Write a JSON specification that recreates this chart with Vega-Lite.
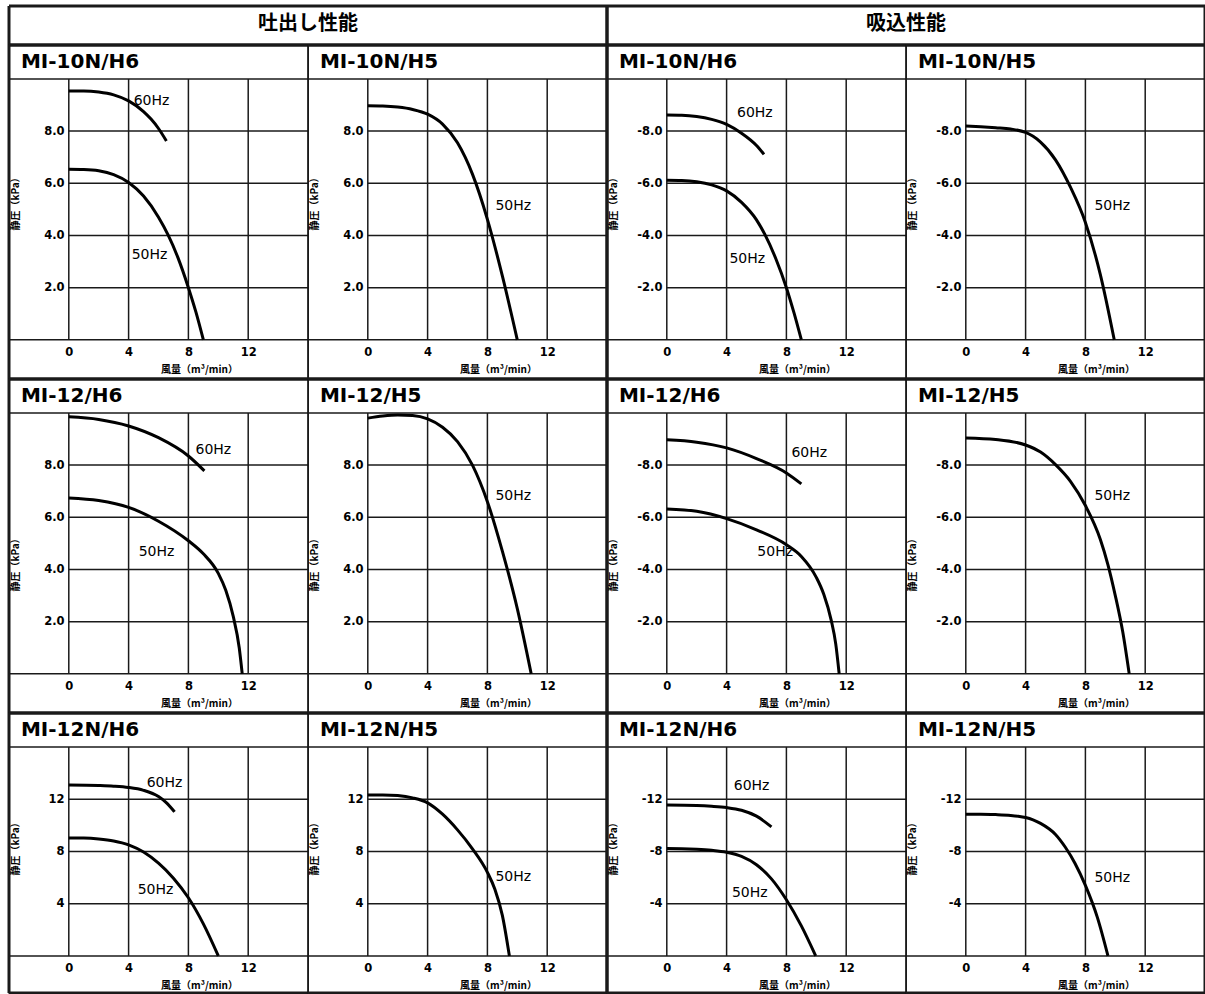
{
"$schema": "https://vega.github.io/schema/vega-lite/v6.json",
"padding": {"left": 6, "top": 4, "right": 0, "bottom": 0},
"background": "white",
"config": {
 "view": {"stroke": "#111", "strokeWidth": 1.4},
 "concat": {"spacing": 0},
 "mark": {"color": "#000"},
 "rule": {"color": "#1a1a1a", "strokeWidth": 1.5},
 "line": {"color": "#000", "strokeWidth": 3, "interpolate": "monotone"},
 "text": {"font": "DejaVu Sans", "fontSize": 14, "color": "#000"},
 "axis": {"domain": false, "ticks": false, "grid": false, "labelFont": "DejaVu Sans", "labelFontWeight": "bold", "labelFontSize": 11.5, "labelColor": "#000", "titleFont": "Noto Sans CJK JP", "titleFontWeight": "bold", "titleFontSize": 10, "titleColor": "#000"}
},
"datasets": {
 "vg": [{"v": 0}, {"v": 4}, {"v": 8}, {"v": 12}],
 "hgA": [{"v": 2}, {"v": 4}, {"v": 6}, {"v": 8}],
 "hgB": [{"v": 4}, {"v": 8}, {"v": 12}],
 "hgSA": [{"v": -2}, {"v": -4}, {"v": -6}, {"v": -8}],
 "hgSB": [{"v": -4}, {"v": -8}, {"v": -12}],
 "one": [{"k": 1}],
 "curves": [
  {"panel":"D1","hz":"60Hz","q":0,"p":9.54},{"panel":"D1","hz":"60Hz","q":1,"p":9.54},{"panel":"D1","hz":"60Hz","q":2,"p":9.5},{"panel":"D1","hz":"60Hz","q":3,"p":9.39},{"panel":"D1","hz":"60Hz","q":4,"p":9.16},{"panel":"D1","hz":"60Hz","q":5,"p":8.75},{"panel":"D1","hz":"60Hz","q":5.5,"p":8.46},{"panel":"D1","hz":"60Hz","q":6,"p":8.1},{"panel":"D1","hz":"60Hz","q":6.53,"p":7.62},
  {"panel":"D1","hz":"50Hz","q":0,"p":6.54},{"panel":"D1","hz":"50Hz","q":1,"p":6.53},{"panel":"D1","hz":"50Hz","q":2,"p":6.48},{"panel":"D1","hz":"50Hz","q":3,"p":6.33},{"panel":"D1","hz":"50Hz","q":4,"p":6.03},{"panel":"D1","hz":"50Hz","q":5,"p":5.51},{"panel":"D1","hz":"50Hz","q":6,"p":4.7},{"panel":"D1","hz":"50Hz","q":6.64,"p":4.02},{"panel":"D1","hz":"50Hz","q":7.3,"p":3.15},{"panel":"D1","hz":"50Hz","q":8,"p":2.0},{"panel":"D1","hz":"50Hz","q":8.5,"p":1.07},{"panel":"D1","hz":"50Hz","q":9,"p":0},
  {"panel":"D2","hz":"50Hz","q":0,"p":8.97},{"panel":"D2","hz":"50Hz","q":1,"p":8.96},{"panel":"D2","hz":"50Hz","q":2,"p":8.92},{"panel":"D2","hz":"50Hz","q":3,"p":8.83},{"panel":"D2","hz":"50Hz","q":4,"p":8.65},{"panel":"D2","hz":"50Hz","q":5,"p":8.27},{"panel":"D2","hz":"50Hz","q":6,"p":7.55},{"panel":"D2","hz":"50Hz","q":7,"p":6.35},{"panel":"D2","hz":"50Hz","q":8,"p":4.62},{"panel":"D2","hz":"50Hz","q":9,"p":2.45},{"panel":"D2","hz":"50Hz","q":10,"p":0},
  {"panel":"D3","hz":"60Hz","q":0,"p":9.85},{"panel":"D3","hz":"60Hz","q":2,"p":9.75},{"panel":"D3","hz":"60Hz","q":4,"p":9.5},{"panel":"D3","hz":"60Hz","q":6,"p":9.05},{"panel":"D3","hz":"60Hz","q":8,"p":8.35},{"panel":"D3","hz":"60Hz","q":9.07,"p":7.78},
  {"panel":"D3","hz":"50Hz","q":0,"p":6.74},{"panel":"D3","hz":"50Hz","q":2,"p":6.64},{"panel":"D3","hz":"50Hz","q":4,"p":6.38},{"panel":"D3","hz":"50Hz","q":6,"p":5.85},{"panel":"D3","hz":"50Hz","q":8,"p":5.1},{"panel":"D3","hz":"50Hz","q":9,"p":4.6},{"panel":"D3","hz":"50Hz","q":10,"p":3.85},{"panel":"D3","hz":"50Hz","q":10.5,"p":3.2},{"panel":"D3","hz":"50Hz","q":11,"p":2.2},{"panel":"D3","hz":"50Hz","q":11.4,"p":1.0},{"panel":"D3","hz":"50Hz","q":11.6,"p":0},
  {"panel":"D4","hz":"50Hz","q":0,"p":9.8},{"panel":"D4","hz":"50Hz","q":1,"p":9.88},{"panel":"D4","hz":"50Hz","q":2,"p":9.92},{"panel":"D4","hz":"50Hz","q":3,"p":9.9},{"panel":"D4","hz":"50Hz","q":4,"p":9.77},{"panel":"D4","hz":"50Hz","q":5,"p":9.45},{"panel":"D4","hz":"50Hz","q":6,"p":8.9},{"panel":"D4","hz":"50Hz","q":7,"p":8.0},{"panel":"D4","hz":"50Hz","q":8,"p":6.6},{"panel":"D4","hz":"50Hz","q":9,"p":4.7},{"panel":"D4","hz":"50Hz","q":10,"p":2.5},{"panel":"D4","hz":"50Hz","q":10.93,"p":0},
  {"panel":"D5","hz":"60Hz","q":0,"p":13.09},{"panel":"D5","hz":"60Hz","q":2,"p":13.05},{"panel":"D5","hz":"60Hz","q":3,"p":13.0},{"panel":"D5","hz":"60Hz","q":4,"p":12.9},{"panel":"D5","hz":"60Hz","q":5,"p":12.68},{"panel":"D5","hz":"60Hz","q":6,"p":12.2},{"panel":"D5","hz":"60Hz","q":6.5,"p":11.75},{"panel":"D5","hz":"60Hz","q":7.07,"p":11.03},
  {"panel":"D5","hz":"50Hz","q":0,"p":9.03},{"panel":"D5","hz":"50Hz","q":1,"p":9.02},{"panel":"D5","hz":"50Hz","q":2,"p":8.95},{"panel":"D5","hz":"50Hz","q":3,"p":8.8},{"panel":"D5","hz":"50Hz","q":4,"p":8.5},{"panel":"D5","hz":"50Hz","q":5,"p":7.95},{"panel":"D5","hz":"50Hz","q":6,"p":7.1},{"panel":"D5","hz":"50Hz","q":7,"p":5.95},{"panel":"D5","hz":"50Hz","q":8,"p":4.45},{"panel":"D5","hz":"50Hz","q":9,"p":2.45},{"panel":"D5","hz":"50Hz","q":10,"p":0},
  {"panel":"D6","hz":"50Hz","q":0,"p":12.33},{"panel":"D6","hz":"50Hz","q":1,"p":12.33},{"panel":"D6","hz":"50Hz","q":2,"p":12.28},{"panel":"D6","hz":"50Hz","q":3,"p":12.1},{"panel":"D6","hz":"50Hz","q":4,"p":11.72},{"panel":"D6","hz":"50Hz","q":5,"p":10.85},{"panel":"D6","hz":"50Hz","q":6,"p":9.65},{"panel":"D6","hz":"50Hz","q":7,"p":8.2},{"panel":"D6","hz":"50Hz","q":8,"p":6.4},{"panel":"D6","hz":"50Hz","q":8.5,"p":5.1},{"panel":"D6","hz":"50Hz","q":9,"p":3.1},{"panel":"D6","hz":"50Hz","q":9.47,"p":0},
  {"panel":"S1","hz":"60Hz","q":0,"p":-8.62},{"panel":"S1","hz":"60Hz","q":1,"p":-8.61},{"panel":"S1","hz":"60Hz","q":2,"p":-8.56},{"panel":"S1","hz":"60Hz","q":3,"p":-8.45},{"panel":"S1","hz":"60Hz","q":4,"p":-8.26},{"panel":"S1","hz":"60Hz","q":5,"p":-7.92},{"panel":"S1","hz":"60Hz","q":6,"p":-7.45},{"panel":"S1","hz":"60Hz","q":6.5,"p":-7.11},
  {"panel":"S1","hz":"50Hz","q":0,"p":-6.12},{"panel":"S1","hz":"50Hz","q":1,"p":-6.11},{"panel":"S1","hz":"50Hz","q":2,"p":-6.06},{"panel":"S1","hz":"50Hz","q":3,"p":-5.94},{"panel":"S1","hz":"50Hz","q":4,"p":-5.71},{"panel":"S1","hz":"50Hz","q":5,"p":-5.27},{"panel":"S1","hz":"50Hz","q":6,"p":-4.6},{"panel":"S1","hz":"50Hz","q":6.55,"p":-4.05},{"panel":"S1","hz":"50Hz","q":7.3,"p":-3.1},{"panel":"S1","hz":"50Hz","q":8,"p":-2.0},{"panel":"S1","hz":"50Hz","q":8.5,"p":-1.05},{"panel":"S1","hz":"50Hz","q":9,"p":0},
  {"panel":"S2","hz":"50Hz","q":0,"p":-8.2},{"panel":"S2","hz":"50Hz","q":1,"p":-8.17},{"panel":"S2","hz":"50Hz","q":2,"p":-8.13},{"panel":"S2","hz":"50Hz","q":3,"p":-8.08},{"panel":"S2","hz":"50Hz","q":4,"p":-7.95},{"panel":"S2","hz":"50Hz","q":4.5,"p":-7.8},{"panel":"S2","hz":"50Hz","q":5,"p":-7.58},{"panel":"S2","hz":"50Hz","q":6,"p":-6.9},{"panel":"S2","hz":"50Hz","q":7,"p":-5.85},{"panel":"S2","hz":"50Hz","q":8,"p":-4.5},{"panel":"S2","hz":"50Hz","q":9,"p":-2.5},{"panel":"S2","hz":"50Hz","q":9.93,"p":0},
  {"panel":"S3","hz":"60Hz","q":0,"p":-8.97},{"panel":"S3","hz":"60Hz","q":2,"p":-8.88},{"panel":"S3","hz":"60Hz","q":4,"p":-8.66},{"panel":"S3","hz":"60Hz","q":6,"p":-8.25},{"panel":"S3","hz":"60Hz","q":8,"p":-7.7},{"panel":"S3","hz":"60Hz","q":9,"p":-7.28},
  {"panel":"S3","hz":"50Hz","q":0,"p":-6.32},{"panel":"S3","hz":"50Hz","q":2,"p":-6.23},{"panel":"S3","hz":"50Hz","q":4,"p":-5.95},{"panel":"S3","hz":"50Hz","q":6,"p":-5.52},{"panel":"S3","hz":"50Hz","q":8,"p":-4.95},{"panel":"S3","hz":"50Hz","q":9,"p":-4.5},{"panel":"S3","hz":"50Hz","q":10,"p":-3.7},{"panel":"S3","hz":"50Hz","q":10.5,"p":-3.05},{"panel":"S3","hz":"50Hz","q":11,"p":-2.05},{"panel":"S3","hz":"50Hz","q":11.3,"p":-1.15},{"panel":"S3","hz":"50Hz","q":11.53,"p":0},
  {"panel":"S4","hz":"50Hz","q":0,"p":-9.04},{"panel":"S4","hz":"50Hz","q":2,"p":-8.98},{"panel":"S4","hz":"50Hz","q":4,"p":-8.77},{"panel":"S4","hz":"50Hz","q":5,"p":-8.5},{"panel":"S4","hz":"50Hz","q":6,"p":-8.02},{"panel":"S4","hz":"50Hz","q":7,"p":-7.38},{"panel":"S4","hz":"50Hz","q":8,"p":-6.45},{"panel":"S4","hz":"50Hz","q":9,"p":-5.15},{"panel":"S4","hz":"50Hz","q":9.5,"p":-4.2},{"panel":"S4","hz":"50Hz","q":10,"p":-3.0},{"panel":"S4","hz":"50Hz","q":10.5,"p":-1.6},{"panel":"S4","hz":"50Hz","q":10.93,"p":0},
  {"panel":"S5","hz":"60Hz","q":0,"p":-11.56},{"panel":"S5","hz":"60Hz","q":2,"p":-11.52},{"panel":"S5","hz":"60Hz","q":3,"p":-11.46},{"panel":"S5","hz":"60Hz","q":4,"p":-11.36},{"panel":"S5","hz":"60Hz","q":5,"p":-11.15},{"panel":"S5","hz":"60Hz","q":6,"p":-10.7},{"panel":"S5","hz":"60Hz","q":7,"p":-9.88},
  {"panel":"S5","hz":"50Hz","q":0,"p":-8.22},{"panel":"S5","hz":"50Hz","q":1,"p":-8.21},{"panel":"S5","hz":"50Hz","q":2,"p":-8.17},{"panel":"S5","hz":"50Hz","q":3,"p":-8.09},{"panel":"S5","hz":"50Hz","q":4,"p":-7.94},{"panel":"S5","hz":"50Hz","q":5,"p":-7.62},{"panel":"S5","hz":"50Hz","q":6,"p":-6.98},{"panel":"S5","hz":"50Hz","q":7,"p":-5.9},{"panel":"S5","hz":"50Hz","q":8,"p":-4.3},{"panel":"S5","hz":"50Hz","q":9,"p":-2.3},{"panel":"S5","hz":"50Hz","q":9.96,"p":0},
  {"panel":"S6","hz":"50Hz","q":0,"p":-10.85},{"panel":"S6","hz":"50Hz","q":1,"p":-10.85},{"panel":"S6","hz":"50Hz","q":2,"p":-10.82},{"panel":"S6","hz":"50Hz","q":3,"p":-10.76},{"panel":"S6","hz":"50Hz","q":3.5,"p":-10.7},{"panel":"S6","hz":"50Hz","q":4,"p":-10.6},{"panel":"S6","hz":"50Hz","q":4.5,"p":-10.42},{"panel":"S6","hz":"50Hz","q":5,"p":-10.15},{"panel":"S6","hz":"50Hz","q":6,"p":-9.3},{"panel":"S6","hz":"50Hz","q":6.67,"p":-8.3},{"panel":"S6","hz":"50Hz","q":7.3,"p":-7.1},{"panel":"S6","hz":"50Hz","q":8,"p":-5.4},{"panel":"S6","hz":"50Hz","q":8.8,"p":-2.95},{"panel":"S6","hz":"50Hz","q":9.51,"p":0}
 ],
 "hz": [
  {"panel":"D1","hz":"60Hz","q":5.53,"p":9.16},{"panel":"D1","hz":"50Hz","q":5.4,"p":3.26},
  {"panel":"D2","hz":"50Hz","q":9.73,"p":5.13},
  {"panel":"D3","hz":"60Hz","q":9.67,"p":8.58},{"panel":"D3","hz":"50Hz","q":5.87,"p":4.67},
  {"panel":"D4","hz":"50Hz","q":9.73,"p":6.82},
  {"panel":"D5","hz":"60Hz","q":6.4,"p":13.25},{"panel":"D5","hz":"50Hz","q":5.8,"p":5.05},
  {"panel":"D6","hz":"50Hz","q":9.73,"p":6.05},
  {"panel":"S1","hz":"60Hz","q":5.89,"p":-8.71},{"panel":"S1","hz":"50Hz","q":5.38,"p":-3.09},
  {"panel":"S2","hz":"50Hz","q":9.8,"p":-5.13},
  {"panel":"S3","hz":"60Hz","q":9.53,"p":-8.47},{"panel":"S3","hz":"50Hz","q":7.25,"p":-4.67},
  {"panel":"S4","hz":"50Hz","q":9.8,"p":-6.82},
  {"panel":"S5","hz":"60Hz","q":5.67,"p":-13.0},{"panel":"S5","hz":"50Hz","q":5.55,"p":-4.85},
  {"panel":"S6","hz":"50Hz","q":9.8,"p":-6.0}
 ]
},
"columns": 4,
"spacing": 0,
"bounds": "flush",
"concat": [
 {"width": 299, "height": 39, "view": {"stroke": null}, "data": {"values": [{"t": "吐出し性能"}]}, "layer": [
  {"mark": {"type": "rule", "strokeWidth": 3}, "encoding": {"x": {"datum": 0, "type": "quantitative", "scale": {"domain": [0, 1], "nice": false}, "axis": null}, "x2": {"datum": 1}, "y": {"datum": 1, "type": "quantitative", "scale": {"domain": [0, 1], "nice": false}, "axis": null}}},
  {"mark": {"type": "rule", "strokeWidth": 3}, "encoding": {"x": {"datum": 0, "axis": null}, "x2": {"datum": 1}, "y": {"datum": 0, "axis": null}}},
  {"mark": {"type": "rule", "strokeWidth": 3}, "encoding": {"x": {"datum": 0, "axis": null}, "y": {"datum": 0, "axis": null}, "y2": {"datum": 1}}},
  {"mark": {"type": "text", "font": "Noto Sans CJK JP", "fontWeight": "bold", "fontSize": 20}, "encoding": {"x": {"datum": 1, "axis": null}, "y": {"datum": 0.55, "axis": null}, "text": {"field": "t"}}}
 ]},
 {"width": 299, "height": 39, "view": {"stroke": null}, "data": {"name": "one"}, "layer": [
  {"mark": {"type": "rule", "strokeWidth": 3}, "encoding": {"x": {"datum": 0, "type": "quantitative", "scale": {"domain": [0, 1], "nice": false}, "axis": null}, "x2": {"datum": 1}, "y": {"datum": 1, "type": "quantitative", "scale": {"domain": [0, 1], "nice": false}, "axis": null}}},
  {"mark": {"type": "rule", "strokeWidth": 3}, "encoding": {"x": {"datum": 0, "axis": null}, "x2": {"datum": 1}, "y": {"datum": 0, "axis": null}}},
  {"mark": {"type": "rule", "strokeWidth": 3}, "encoding": {"x": {"datum": 1, "axis": null}, "y": {"datum": 0, "axis": null}, "y2": {"datum": 1}}}
 ]},
 {"width": 299, "height": 39, "view": {"stroke": null}, "data": {"values": [{"t": "吸込性能"}]}, "layer": [
  {"mark": {"type": "rule", "strokeWidth": 3}, "encoding": {"x": {"datum": 0, "type": "quantitative", "scale": {"domain": [0, 1], "nice": false}, "axis": null}, "x2": {"datum": 1}, "y": {"datum": 1, "type": "quantitative", "scale": {"domain": [0, 1], "nice": false}, "axis": null}}},
  {"mark": {"type": "rule", "strokeWidth": 3}, "encoding": {"x": {"datum": 0, "axis": null}, "x2": {"datum": 1}, "y": {"datum": 0, "axis": null}}},
  {"mark": {"type": "rule", "strokeWidth": 3}, "encoding": {"x": {"datum": 0, "axis": null}, "y": {"datum": 0, "axis": null}, "y2": {"datum": 1}}},
  {"mark": {"type": "text", "font": "Noto Sans CJK JP", "fontWeight": "bold", "fontSize": 20}, "encoding": {"x": {"datum": 1, "axis": null}, "y": {"datum": 0.55, "axis": null}, "text": {"field": "t"}}}
 ]},
 {"width": 299, "height": 39, "view": {"stroke": null}, "data": {"name": "one"}, "layer": [
  {"mark": {"type": "rule", "strokeWidth": 3}, "encoding": {"x": {"datum": 0, "type": "quantitative", "scale": {"domain": [0, 1], "nice": false}, "axis": null}, "x2": {"datum": 1}, "y": {"datum": 1, "type": "quantitative", "scale": {"domain": [0, 1], "nice": false}, "axis": null}}},
  {"mark": {"type": "rule", "strokeWidth": 3}, "encoding": {"x": {"datum": 0, "axis": null}, "x2": {"datum": 1}, "y": {"datum": 0, "axis": null}}},
  {"mark": {"type": "rule", "strokeWidth": 3}, "encoding": {"x": {"datum": 1, "axis": null}, "y": {"datum": 0, "axis": null}, "y2": {"datum": 1}}}
 ]},
 {"width": 299, "height": 334, "layer": [
  {"data": {"name": "vg"}, "mark": "rule", "encoding": {
    "x": {"field": "v", "type": "quantitative", "scale": {"domain": [-4, 16], "nice": false}, "axis": {"values": [0, 4, 8, 12], "offset": -39, "labelPadding": 6, "title": "風量（m³/min）", "titleX": 190, "titleY": 29, "titleBaseline": "middle"}},
    "y": {"datum": 0, "type": "quantitative", "scale": {"domain": [-1.5, 11.3], "nice": false}, "axis": {"values": [2, 4, 6, 8], "format": ".1f", "offset": -60, "labelPadding": 5, "title": "静圧（kPa）", "titleX": -49, "titleY": 156}},
    "y2": {"datum": 10}}},
  {"data": {"name": "hgA"}, "mark": "rule", "encoding": {"y": {"field": "v", "type": "quantitative"}, "x": {"datum": 0}, "x2": {"datum": 16}}},
  {"data": {"name": "one"}, "mark": "rule", "encoding": {"y": {"datum": 0}, "x": {"datum": -4}, "x2": {"datum": 16}}},
  {"data": {"name": "one"}, "mark": "rule", "encoding": {"y": {"datum": 10}, "x": {"datum": -4}, "x2": {"datum": 16}}},
  {"data": {"name": "one"}, "mark": {"type": "rule", "strokeWidth": 3}, "encoding": {"y": {"datum": 11.3}, "x": {"datum": -4}, "x2": {"datum": 16}}},
  {"data": {"name": "one"}, "mark": {"type": "rule", "strokeWidth": 3}, "encoding": {"y": {"datum": -1.5}, "x": {"datum": -4}, "x2": {"datum": 16}}},
  {"data": {"name": "one"}, "mark": {"type": "rule", "strokeWidth": 3}, "encoding": {"x": {"datum": -4}, "y": {"datum": -1.5}, "y2": {"datum": 11.3}}},
  {"data": {"name": "curves"}, "transform": [{"filter": "datum.panel == 'D1'"}], "mark": "line", "encoding": {"x": {"field": "q", "type": "quantitative"}, "y": {"field": "p", "type": "quantitative"}, "detail": {"field": "hz"}}},
  {"data": {"name": "hz"}, "transform": [{"filter": "datum.panel == 'D1'"}], "mark": "text", "encoding": {"x": {"field": "q", "type": "quantitative"}, "y": {"field": "p", "type": "quantitative"}, "text": {"field": "hz"}}},
  {"data": {"values": [{"t": "MI-10N/H6"}]}, "mark": {"type": "text", "align": "left", "fontSize": 20, "fontWeight": "bold"}, "encoding": {"x": {"datum": -3.2}, "y": {"datum": 10.65}, "text": {"field": "t"}}}
 ]},
 {"width": 299, "height": 334, "layer": [
  {"data": {"name": "vg"}, "mark": "rule", "encoding": {
    "x": {"field": "v", "type": "quantitative", "scale": {"domain": [-4, 16], "nice": false}, "axis": {"values": [0, 4, 8, 12], "offset": -39, "labelPadding": 6, "title": "風量（m³/min）", "titleX": 190, "titleY": 29, "titleBaseline": "middle"}},
    "y": {"datum": 0, "type": "quantitative", "scale": {"domain": [-1.5, 11.3], "nice": false}, "axis": {"values": [2, 4, 6, 8], "format": ".1f", "offset": -60, "labelPadding": 5, "title": "静圧（kPa）", "titleX": -49, "titleY": 156}},
    "y2": {"datum": 10}}},
  {"data": {"name": "hgA"}, "mark": "rule", "encoding": {"y": {"field": "v", "type": "quantitative"}, "x": {"datum": 0}, "x2": {"datum": 16}}},
  {"data": {"name": "one"}, "mark": "rule", "encoding": {"y": {"datum": 0}, "x": {"datum": -4}, "x2": {"datum": 16}}},
  {"data": {"name": "one"}, "mark": "rule", "encoding": {"y": {"datum": 10}, "x": {"datum": -4}, "x2": {"datum": 16}}},
  {"data": {"name": "one"}, "mark": {"type": "rule", "strokeWidth": 3}, "encoding": {"y": {"datum": 11.3}, "x": {"datum": -4}, "x2": {"datum": 16}}},
  {"data": {"name": "one"}, "mark": {"type": "rule", "strokeWidth": 3}, "encoding": {"y": {"datum": -1.5}, "x": {"datum": -4}, "x2": {"datum": 16}}},
  {"data": {"name": "one"}, "mark": {"type": "rule", "strokeWidth": 3}, "encoding": {"x": {"datum": 16}, "y": {"datum": -1.5}, "y2": {"datum": 11.3}}},
  {"data": {"name": "curves"}, "transform": [{"filter": "datum.panel == 'D2'"}], "mark": "line", "encoding": {"x": {"field": "q", "type": "quantitative"}, "y": {"field": "p", "type": "quantitative"}, "detail": {"field": "hz"}}},
  {"data": {"name": "hz"}, "transform": [{"filter": "datum.panel == 'D2'"}], "mark": "text", "encoding": {"x": {"field": "q", "type": "quantitative"}, "y": {"field": "p", "type": "quantitative"}, "text": {"field": "hz"}}},
  {"data": {"values": [{"t": "MI-10N/H5"}]}, "mark": {"type": "text", "align": "left", "fontSize": 20, "fontWeight": "bold"}, "encoding": {"x": {"datum": -3.2}, "y": {"datum": 10.65}, "text": {"field": "t"}}}
 ]},
 {"width": 299, "height": 334, "layer": [
  {"data": {"name": "vg"}, "mark": "rule", "encoding": {
    "x": {"field": "v", "type": "quantitative", "scale": {"domain": [-4, 16], "nice": false}, "axis": {"values": [0, 4, 8, 12], "offset": -39, "labelPadding": 6, "title": "風量（m³/min）", "titleX": 190, "titleY": 29, "titleBaseline": "middle"}},
    "y": {"datum": 0, "type": "quantitative", "scale": {"domain": [-11.3, 1.5], "nice": false, "reverse": true}, "axis": {"values": [-2, -4, -6, -8], "labelExpr": "'-' + format(abs(datum.value), '.1f')", "offset": -60, "labelPadding": 5, "title": "静圧（kPa）", "titleX": -49, "titleY": 156}},
    "y2": {"datum": -10}}},
  {"data": {"name": "hgSA"}, "mark": "rule", "encoding": {"y": {"field": "v", "type": "quantitative"}, "x": {"datum": 0}, "x2": {"datum": 16}}},
  {"data": {"name": "one"}, "mark": "rule", "encoding": {"y": {"datum": 0}, "x": {"datum": -4}, "x2": {"datum": 16}}},
  {"data": {"name": "one"}, "mark": "rule", "encoding": {"y": {"datum": -10}, "x": {"datum": -4}, "x2": {"datum": 16}}},
  {"data": {"name": "one"}, "mark": {"type": "rule", "strokeWidth": 3}, "encoding": {"y": {"datum": -11.3}, "x": {"datum": -4}, "x2": {"datum": 16}}},
  {"data": {"name": "one"}, "mark": {"type": "rule", "strokeWidth": 3}, "encoding": {"y": {"datum": 1.5}, "x": {"datum": -4}, "x2": {"datum": 16}}},
  {"data": {"name": "one"}, "mark": {"type": "rule", "strokeWidth": 3}, "encoding": {"x": {"datum": -4}, "y": {"datum": 1.5}, "y2": {"datum": -11.3}}},
  {"data": {"name": "curves"}, "transform": [{"filter": "datum.panel == 'S1'"}], "mark": "line", "encoding": {"x": {"field": "q", "type": "quantitative"}, "y": {"field": "p", "type": "quantitative"}, "detail": {"field": "hz"}}},
  {"data": {"name": "hz"}, "transform": [{"filter": "datum.panel == 'S1'"}], "mark": "text", "encoding": {"x": {"field": "q", "type": "quantitative"}, "y": {"field": "p", "type": "quantitative"}, "text": {"field": "hz"}}},
  {"data": {"values": [{"t": "MI-10N/H6"}]}, "mark": {"type": "text", "align": "left", "fontSize": 20, "fontWeight": "bold"}, "encoding": {"x": {"datum": -3.2}, "y": {"datum": -10.65}, "text": {"field": "t"}}}
 ]},
 {"width": 299, "height": 334, "layer": [
  {"data": {"name": "vg"}, "mark": "rule", "encoding": {
    "x": {"field": "v", "type": "quantitative", "scale": {"domain": [-4, 16], "nice": false}, "axis": {"values": [0, 4, 8, 12], "offset": -39, "labelPadding": 6, "title": "風量（m³/min）", "titleX": 190, "titleY": 29, "titleBaseline": "middle"}},
    "y": {"datum": 0, "type": "quantitative", "scale": {"domain": [-11.3, 1.5], "nice": false, "reverse": true}, "axis": {"values": [-2, -4, -6, -8], "labelExpr": "'-' + format(abs(datum.value), '.1f')", "offset": -60, "labelPadding": 5, "title": "静圧（kPa）", "titleX": -49, "titleY": 156}},
    "y2": {"datum": -10}}},
  {"data": {"name": "hgSA"}, "mark": "rule", "encoding": {"y": {"field": "v", "type": "quantitative"}, "x": {"datum": 0}, "x2": {"datum": 16}}},
  {"data": {"name": "one"}, "mark": "rule", "encoding": {"y": {"datum": 0}, "x": {"datum": -4}, "x2": {"datum": 16}}},
  {"data": {"name": "one"}, "mark": "rule", "encoding": {"y": {"datum": -10}, "x": {"datum": -4}, "x2": {"datum": 16}}},
  {"data": {"name": "one"}, "mark": {"type": "rule", "strokeWidth": 3}, "encoding": {"y": {"datum": -11.3}, "x": {"datum": -4}, "x2": {"datum": 16}}},
  {"data": {"name": "one"}, "mark": {"type": "rule", "strokeWidth": 3}, "encoding": {"y": {"datum": 1.5}, "x": {"datum": -4}, "x2": {"datum": 16}}},
  {"data": {"name": "one"}, "mark": {"type": "rule", "strokeWidth": 3}, "encoding": {"x": {"datum": 16}, "y": {"datum": 1.5}, "y2": {"datum": -11.3}}},
  {"data": {"name": "curves"}, "transform": [{"filter": "datum.panel == 'S2'"}], "mark": "line", "encoding": {"x": {"field": "q", "type": "quantitative"}, "y": {"field": "p", "type": "quantitative"}, "detail": {"field": "hz"}}},
  {"data": {"name": "hz"}, "transform": [{"filter": "datum.panel == 'S2'"}], "mark": "text", "encoding": {"x": {"field": "q", "type": "quantitative"}, "y": {"field": "p", "type": "quantitative"}, "text": {"field": "hz"}}},
  {"data": {"values": [{"t": "MI-10N/H5"}]}, "mark": {"type": "text", "align": "left", "fontSize": 20, "fontWeight": "bold"}, "encoding": {"x": {"datum": -3.2}, "y": {"datum": -10.65}, "text": {"field": "t"}}}
 ]},
 {"width": 299, "height": 334, "layer": [
  {"data": {"name": "vg"}, "mark": "rule", "encoding": {
    "x": {"field": "v", "type": "quantitative", "scale": {"domain": [-4, 16], "nice": false}, "axis": {"values": [0, 4, 8, 12], "offset": -39, "labelPadding": 6, "title": "風量（m³/min）", "titleX": 190, "titleY": 29, "titleBaseline": "middle"}},
    "y": {"datum": 0, "type": "quantitative", "scale": {"domain": [-1.5, 11.3], "nice": false}, "axis": {"values": [2, 4, 6, 8], "format": ".1f", "offset": -60, "labelPadding": 5, "title": "静圧（kPa）", "titleX": -49, "titleY": 183}},
    "y2": {"datum": 10}}},
  {"data": {"name": "hgA"}, "mark": "rule", "encoding": {"y": {"field": "v", "type": "quantitative"}, "x": {"datum": 0}, "x2": {"datum": 16}}},
  {"data": {"name": "one"}, "mark": "rule", "encoding": {"y": {"datum": 0}, "x": {"datum": -4}, "x2": {"datum": 16}}},
  {"data": {"name": "one"}, "mark": "rule", "encoding": {"y": {"datum": 10}, "x": {"datum": -4}, "x2": {"datum": 16}}},
  {"data": {"name": "one"}, "mark": {"type": "rule", "strokeWidth": 3}, "encoding": {"y": {"datum": 11.3}, "x": {"datum": -4}, "x2": {"datum": 16}}},
  {"data": {"name": "one"}, "mark": {"type": "rule", "strokeWidth": 3}, "encoding": {"y": {"datum": -1.5}, "x": {"datum": -4}, "x2": {"datum": 16}}},
  {"data": {"name": "one"}, "mark": {"type": "rule", "strokeWidth": 3}, "encoding": {"x": {"datum": -4}, "y": {"datum": -1.5}, "y2": {"datum": 11.3}}},
  {"data": {"name": "curves"}, "transform": [{"filter": "datum.panel == 'D3'"}], "mark": "line", "encoding": {"x": {"field": "q", "type": "quantitative"}, "y": {"field": "p", "type": "quantitative"}, "detail": {"field": "hz"}}},
  {"data": {"name": "hz"}, "transform": [{"filter": "datum.panel == 'D3'"}], "mark": "text", "encoding": {"x": {"field": "q", "type": "quantitative"}, "y": {"field": "p", "type": "quantitative"}, "text": {"field": "hz"}}},
  {"data": {"values": [{"t": "MI-12/H6"}]}, "mark": {"type": "text", "align": "left", "fontSize": 20, "fontWeight": "bold"}, "encoding": {"x": {"datum": -3.2}, "y": {"datum": 10.65}, "text": {"field": "t"}}}
 ]},
 {"width": 299, "height": 334, "layer": [
  {"data": {"name": "vg"}, "mark": "rule", "encoding": {
    "x": {"field": "v", "type": "quantitative", "scale": {"domain": [-4, 16], "nice": false}, "axis": {"values": [0, 4, 8, 12], "offset": -39, "labelPadding": 6, "title": "風量（m³/min）", "titleX": 190, "titleY": 29, "titleBaseline": "middle"}},
    "y": {"datum": 0, "type": "quantitative", "scale": {"domain": [-1.5, 11.3], "nice": false}, "axis": {"values": [2, 4, 6, 8], "format": ".1f", "offset": -60, "labelPadding": 5, "title": "静圧（kPa）", "titleX": -49, "titleY": 183}},
    "y2": {"datum": 10}}},
  {"data": {"name": "hgA"}, "mark": "rule", "encoding": {"y": {"field": "v", "type": "quantitative"}, "x": {"datum": 0}, "x2": {"datum": 16}}},
  {"data": {"name": "one"}, "mark": "rule", "encoding": {"y": {"datum": 0}, "x": {"datum": -4}, "x2": {"datum": 16}}},
  {"data": {"name": "one"}, "mark": "rule", "encoding": {"y": {"datum": 10}, "x": {"datum": -4}, "x2": {"datum": 16}}},
  {"data": {"name": "one"}, "mark": {"type": "rule", "strokeWidth": 3}, "encoding": {"y": {"datum": 11.3}, "x": {"datum": -4}, "x2": {"datum": 16}}},
  {"data": {"name": "one"}, "mark": {"type": "rule", "strokeWidth": 3}, "encoding": {"y": {"datum": -1.5}, "x": {"datum": -4}, "x2": {"datum": 16}}},
  {"data": {"name": "one"}, "mark": {"type": "rule", "strokeWidth": 3}, "encoding": {"x": {"datum": 16}, "y": {"datum": -1.5}, "y2": {"datum": 11.3}}},
  {"data": {"name": "curves"}, "transform": [{"filter": "datum.panel == 'D4'"}], "mark": "line", "encoding": {"x": {"field": "q", "type": "quantitative"}, "y": {"field": "p", "type": "quantitative"}, "detail": {"field": "hz"}}},
  {"data": {"name": "hz"}, "transform": [{"filter": "datum.panel == 'D4'"}], "mark": "text", "encoding": {"x": {"field": "q", "type": "quantitative"}, "y": {"field": "p", "type": "quantitative"}, "text": {"field": "hz"}}},
  {"data": {"values": [{"t": "MI-12/H5"}]}, "mark": {"type": "text", "align": "left", "fontSize": 20, "fontWeight": "bold"}, "encoding": {"x": {"datum": -3.2}, "y": {"datum": 10.65}, "text": {"field": "t"}}}
 ]},
 {"width": 299, "height": 334, "layer": [
  {"data": {"name": "vg"}, "mark": "rule", "encoding": {
    "x": {"field": "v", "type": "quantitative", "scale": {"domain": [-4, 16], "nice": false}, "axis": {"values": [0, 4, 8, 12], "offset": -39, "labelPadding": 6, "title": "風量（m³/min）", "titleX": 190, "titleY": 29, "titleBaseline": "middle"}},
    "y": {"datum": 0, "type": "quantitative", "scale": {"domain": [-11.3, 1.5], "nice": false, "reverse": true}, "axis": {"values": [-2, -4, -6, -8], "labelExpr": "'-' + format(abs(datum.value), '.1f')", "offset": -60, "labelPadding": 5, "title": "静圧（kPa）", "titleX": -49, "titleY": 183}},
    "y2": {"datum": -10}}},
  {"data": {"name": "hgSA"}, "mark": "rule", "encoding": {"y": {"field": "v", "type": "quantitative"}, "x": {"datum": 0}, "x2": {"datum": 16}}},
  {"data": {"name": "one"}, "mark": "rule", "encoding": {"y": {"datum": 0}, "x": {"datum": -4}, "x2": {"datum": 16}}},
  {"data": {"name": "one"}, "mark": "rule", "encoding": {"y": {"datum": -10}, "x": {"datum": -4}, "x2": {"datum": 16}}},
  {"data": {"name": "one"}, "mark": {"type": "rule", "strokeWidth": 3}, "encoding": {"y": {"datum": -11.3}, "x": {"datum": -4}, "x2": {"datum": 16}}},
  {"data": {"name": "one"}, "mark": {"type": "rule", "strokeWidth": 3}, "encoding": {"y": {"datum": 1.5}, "x": {"datum": -4}, "x2": {"datum": 16}}},
  {"data": {"name": "one"}, "mark": {"type": "rule", "strokeWidth": 3}, "encoding": {"x": {"datum": -4}, "y": {"datum": 1.5}, "y2": {"datum": -11.3}}},
  {"data": {"name": "curves"}, "transform": [{"filter": "datum.panel == 'S3'"}], "mark": "line", "encoding": {"x": {"field": "q", "type": "quantitative"}, "y": {"field": "p", "type": "quantitative"}, "detail": {"field": "hz"}}},
  {"data": {"name": "hz"}, "transform": [{"filter": "datum.panel == 'S3'"}], "mark": "text", "encoding": {"x": {"field": "q", "type": "quantitative"}, "y": {"field": "p", "type": "quantitative"}, "text": {"field": "hz"}}},
  {"data": {"values": [{"t": "MI-12/H6"}]}, "mark": {"type": "text", "align": "left", "fontSize": 20, "fontWeight": "bold"}, "encoding": {"x": {"datum": -3.2}, "y": {"datum": -10.65}, "text": {"field": "t"}}}
 ]},
 {"width": 299, "height": 334, "layer": [
  {"data": {"name": "vg"}, "mark": "rule", "encoding": {
    "x": {"field": "v", "type": "quantitative", "scale": {"domain": [-4, 16], "nice": false}, "axis": {"values": [0, 4, 8, 12], "offset": -39, "labelPadding": 6, "title": "風量（m³/min）", "titleX": 190, "titleY": 29, "titleBaseline": "middle"}},
    "y": {"datum": 0, "type": "quantitative", "scale": {"domain": [-11.3, 1.5], "nice": false, "reverse": true}, "axis": {"values": [-2, -4, -6, -8], "labelExpr": "'-' + format(abs(datum.value), '.1f')", "offset": -60, "labelPadding": 5, "title": "静圧（kPa）", "titleX": -49, "titleY": 183}},
    "y2": {"datum": -10}}},
  {"data": {"name": "hgSA"}, "mark": "rule", "encoding": {"y": {"field": "v", "type": "quantitative"}, "x": {"datum": 0}, "x2": {"datum": 16}}},
  {"data": {"name": "one"}, "mark": "rule", "encoding": {"y": {"datum": 0}, "x": {"datum": -4}, "x2": {"datum": 16}}},
  {"data": {"name": "one"}, "mark": "rule", "encoding": {"y": {"datum": -10}, "x": {"datum": -4}, "x2": {"datum": 16}}},
  {"data": {"name": "one"}, "mark": {"type": "rule", "strokeWidth": 3}, "encoding": {"y": {"datum": -11.3}, "x": {"datum": -4}, "x2": {"datum": 16}}},
  {"data": {"name": "one"}, "mark": {"type": "rule", "strokeWidth": 3}, "encoding": {"y": {"datum": 1.5}, "x": {"datum": -4}, "x2": {"datum": 16}}},
  {"data": {"name": "one"}, "mark": {"type": "rule", "strokeWidth": 3}, "encoding": {"x": {"datum": 16}, "y": {"datum": 1.5}, "y2": {"datum": -11.3}}},
  {"data": {"name": "curves"}, "transform": [{"filter": "datum.panel == 'S4'"}], "mark": "line", "encoding": {"x": {"field": "q", "type": "quantitative"}, "y": {"field": "p", "type": "quantitative"}, "detail": {"field": "hz"}}},
  {"data": {"name": "hz"}, "transform": [{"filter": "datum.panel == 'S4'"}], "mark": "text", "encoding": {"x": {"field": "q", "type": "quantitative"}, "y": {"field": "p", "type": "quantitative"}, "text": {"field": "hz"}}},
  {"data": {"values": [{"t": "MI-12/H5"}]}, "mark": {"type": "text", "align": "left", "fontSize": 20, "fontWeight": "bold"}, "encoding": {"x": {"datum": -3.2}, "y": {"datum": -10.65}, "text": {"field": "t"}}}
 ]},
 {"width": 299, "height": 280, "layer": [
  {"data": {"name": "vg"}, "mark": "rule", "encoding": {
    "x": {"field": "v", "type": "quantitative", "scale": {"domain": [-4, 16], "nice": false}, "axis": {"values": [0, 4, 8, 12], "offset": -37, "labelPadding": 6, "title": "風量（m³/min）", "titleX": 190, "titleY": 29, "titleBaseline": "middle"}},
    "y": {"datum": 0, "type": "quantitative", "scale": {"domain": [-2.84, 18.6], "nice": false}, "axis": {"values": [4, 8, 12], "format": "d", "offset": -60, "labelPadding": 5, "title": "静圧（kPa）", "titleX": -49, "titleY": 133}},
    "y2": {"datum": 16}}},
  {"data": {"name": "hgB"}, "mark": "rule", "encoding": {"y": {"field": "v", "type": "quantitative"}, "x": {"datum": 0}, "x2": {"datum": 16}}},
  {"data": {"name": "one"}, "mark": "rule", "encoding": {"y": {"datum": 0}, "x": {"datum": -4}, "x2": {"datum": 16}}},
  {"data": {"name": "one"}, "mark": "rule", "encoding": {"y": {"datum": 16}, "x": {"datum": -4}, "x2": {"datum": 16}}},
  {"data": {"name": "one"}, "mark": {"type": "rule", "strokeWidth": 3}, "encoding": {"y": {"datum": 18.6}, "x": {"datum": -4}, "x2": {"datum": 16}}},
  {"data": {"name": "one"}, "mark": {"type": "rule", "strokeWidth": 3}, "encoding": {"y": {"datum": -2.84}, "x": {"datum": -4}, "x2": {"datum": 16}}},
  {"data": {"name": "one"}, "mark": {"type": "rule", "strokeWidth": 3}, "encoding": {"x": {"datum": -4}, "y": {"datum": -2.84}, "y2": {"datum": 18.6}}},
  {"data": {"name": "curves"}, "transform": [{"filter": "datum.panel == 'D5'"}], "mark": "line", "encoding": {"x": {"field": "q", "type": "quantitative"}, "y": {"field": "p", "type": "quantitative"}, "detail": {"field": "hz"}}},
  {"data": {"name": "hz"}, "transform": [{"filter": "datum.panel == 'D5'"}], "mark": "text", "encoding": {"x": {"field": "q", "type": "quantitative"}, "y": {"field": "p", "type": "quantitative"}, "text": {"field": "hz"}}},
  {"data": {"values": [{"t": "MI-12N/H6"}]}, "mark": {"type": "text", "align": "left", "fontSize": 20, "fontWeight": "bold"}, "encoding": {"x": {"datum": -3.2}, "y": {"datum": 17.3}, "text": {"field": "t"}}}
 ]},
 {"width": 299, "height": 280, "layer": [
  {"data": {"name": "vg"}, "mark": "rule", "encoding": {
    "x": {"field": "v", "type": "quantitative", "scale": {"domain": [-4, 16], "nice": false}, "axis": {"values": [0, 4, 8, 12], "offset": -37, "labelPadding": 6, "title": "風量（m³/min）", "titleX": 190, "titleY": 29, "titleBaseline": "middle"}},
    "y": {"datum": 0, "type": "quantitative", "scale": {"domain": [-2.84, 18.6], "nice": false}, "axis": {"values": [4, 8, 12], "format": "d", "offset": -60, "labelPadding": 5, "title": "静圧（kPa）", "titleX": -49, "titleY": 133}},
    "y2": {"datum": 16}}},
  {"data": {"name": "hgB"}, "mark": "rule", "encoding": {"y": {"field": "v", "type": "quantitative"}, "x": {"datum": 0}, "x2": {"datum": 16}}},
  {"data": {"name": "one"}, "mark": "rule", "encoding": {"y": {"datum": 0}, "x": {"datum": -4}, "x2": {"datum": 16}}},
  {"data": {"name": "one"}, "mark": "rule", "encoding": {"y": {"datum": 16}, "x": {"datum": -4}, "x2": {"datum": 16}}},
  {"data": {"name": "one"}, "mark": {"type": "rule", "strokeWidth": 3}, "encoding": {"y": {"datum": 18.6}, "x": {"datum": -4}, "x2": {"datum": 16}}},
  {"data": {"name": "one"}, "mark": {"type": "rule", "strokeWidth": 3}, "encoding": {"y": {"datum": -2.84}, "x": {"datum": -4}, "x2": {"datum": 16}}},
  {"data": {"name": "one"}, "mark": {"type": "rule", "strokeWidth": 3}, "encoding": {"x": {"datum": 16}, "y": {"datum": -2.84}, "y2": {"datum": 18.6}}},
  {"data": {"name": "curves"}, "transform": [{"filter": "datum.panel == 'D6'"}], "mark": "line", "encoding": {"x": {"field": "q", "type": "quantitative"}, "y": {"field": "p", "type": "quantitative"}, "detail": {"field": "hz"}}},
  {"data": {"name": "hz"}, "transform": [{"filter": "datum.panel == 'D6'"}], "mark": "text", "encoding": {"x": {"field": "q", "type": "quantitative"}, "y": {"field": "p", "type": "quantitative"}, "text": {"field": "hz"}}},
  {"data": {"values": [{"t": "MI-12N/H5"}]}, "mark": {"type": "text", "align": "left", "fontSize": 20, "fontWeight": "bold"}, "encoding": {"x": {"datum": -3.2}, "y": {"datum": 17.3}, "text": {"field": "t"}}}
 ]},
 {"width": 299, "height": 280, "layer": [
  {"data": {"name": "vg"}, "mark": "rule", "encoding": {
    "x": {"field": "v", "type": "quantitative", "scale": {"domain": [-4, 16], "nice": false}, "axis": {"values": [0, 4, 8, 12], "offset": -37, "labelPadding": 6, "title": "風量（m³/min）", "titleX": 190, "titleY": 29, "titleBaseline": "middle"}},
    "y": {"datum": 0, "type": "quantitative", "scale": {"domain": [-18.6, 2.84], "nice": false, "reverse": true}, "axis": {"values": [-4, -8, -12], "labelExpr": "'-' + format(abs(datum.value), 'd')", "offset": -60, "labelPadding": 5, "title": "静圧（kPa）", "titleX": -49, "titleY": 133}},
    "y2": {"datum": -16}}},
  {"data": {"name": "hgSB"}, "mark": "rule", "encoding": {"y": {"field": "v", "type": "quantitative"}, "x": {"datum": 0}, "x2": {"datum": 16}}},
  {"data": {"name": "one"}, "mark": "rule", "encoding": {"y": {"datum": 0}, "x": {"datum": -4}, "x2": {"datum": 16}}},
  {"data": {"name": "one"}, "mark": "rule", "encoding": {"y": {"datum": -16}, "x": {"datum": -4}, "x2": {"datum": 16}}},
  {"data": {"name": "one"}, "mark": {"type": "rule", "strokeWidth": 3}, "encoding": {"y": {"datum": -18.6}, "x": {"datum": -4}, "x2": {"datum": 16}}},
  {"data": {"name": "one"}, "mark": {"type": "rule", "strokeWidth": 3}, "encoding": {"y": {"datum": 2.84}, "x": {"datum": -4}, "x2": {"datum": 16}}},
  {"data": {"name": "one"}, "mark": {"type": "rule", "strokeWidth": 3}, "encoding": {"x": {"datum": -4}, "y": {"datum": 2.84}, "y2": {"datum": -18.6}}},
  {"data": {"name": "curves"}, "transform": [{"filter": "datum.panel == 'S5'"}], "mark": "line", "encoding": {"x": {"field": "q", "type": "quantitative"}, "y": {"field": "p", "type": "quantitative"}, "detail": {"field": "hz"}}},
  {"data": {"name": "hz"}, "transform": [{"filter": "datum.panel == 'S5'"}], "mark": "text", "encoding": {"x": {"field": "q", "type": "quantitative"}, "y": {"field": "p", "type": "quantitative"}, "text": {"field": "hz"}}},
  {"data": {"values": [{"t": "MI-12N/H6"}]}, "mark": {"type": "text", "align": "left", "fontSize": 20, "fontWeight": "bold"}, "encoding": {"x": {"datum": -3.2}, "y": {"datum": -17.3}, "text": {"field": "t"}}}
 ]},
 {"width": 299, "height": 280, "layer": [
  {"data": {"name": "vg"}, "mark": "rule", "encoding": {
    "x": {"field": "v", "type": "quantitative", "scale": {"domain": [-4, 16], "nice": false}, "axis": {"values": [0, 4, 8, 12], "offset": -37, "labelPadding": 6, "title": "風量（m³/min）", "titleX": 190, "titleY": 29, "titleBaseline": "middle"}},
    "y": {"datum": 0, "type": "quantitative", "scale": {"domain": [-18.6, 2.84], "nice": false, "reverse": true}, "axis": {"values": [-4, -8, -12], "labelExpr": "'-' + format(abs(datum.value), 'd')", "offset": -60, "labelPadding": 5, "title": "静圧（kPa）", "titleX": -49, "titleY": 133}},
    "y2": {"datum": -16}}},
  {"data": {"name": "hgSB"}, "mark": "rule", "encoding": {"y": {"field": "v", "type": "quantitative"}, "x": {"datum": 0}, "x2": {"datum": 16}}},
  {"data": {"name": "one"}, "mark": "rule", "encoding": {"y": {"datum": 0}, "x": {"datum": -4}, "x2": {"datum": 16}}},
  {"data": {"name": "one"}, "mark": "rule", "encoding": {"y": {"datum": -16}, "x": {"datum": -4}, "x2": {"datum": 16}}},
  {"data": {"name": "one"}, "mark": {"type": "rule", "strokeWidth": 3}, "encoding": {"y": {"datum": -18.6}, "x": {"datum": -4}, "x2": {"datum": 16}}},
  {"data": {"name": "one"}, "mark": {"type": "rule", "strokeWidth": 3}, "encoding": {"y": {"datum": 2.84}, "x": {"datum": -4}, "x2": {"datum": 16}}},
  {"data": {"name": "one"}, "mark": {"type": "rule", "strokeWidth": 3}, "encoding": {"x": {"datum": 16}, "y": {"datum": 2.84}, "y2": {"datum": -18.6}}},
  {"data": {"name": "curves"}, "transform": [{"filter": "datum.panel == 'S6'"}], "mark": "line", "encoding": {"x": {"field": "q", "type": "quantitative"}, "y": {"field": "p", "type": "quantitative"}, "detail": {"field": "hz"}}},
  {"data": {"name": "hz"}, "transform": [{"filter": "datum.panel == 'S6'"}], "mark": "text", "encoding": {"x": {"field": "q", "type": "quantitative"}, "y": {"field": "p", "type": "quantitative"}, "text": {"field": "hz"}}},
  {"data": {"values": [{"t": "MI-12N/H5"}]}, "mark": {"type": "text", "align": "left", "fontSize": 20, "fontWeight": "bold"}, "encoding": {"x": {"datum": -3.2}, "y": {"datum": -17.3}, "text": {"field": "t"}}}
 ]}
]
}
